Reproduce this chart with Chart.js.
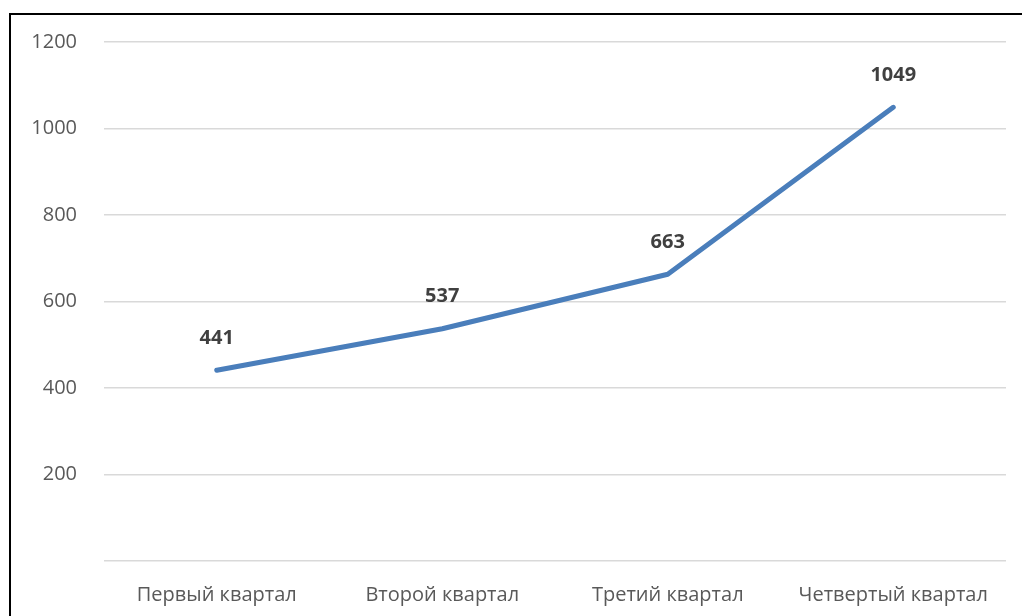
<!DOCTYPE html>
<html>
<head>
<meta charset="utf-8">
<script src="https://cdn.jsdelivr.net/npm/chart.js@4"></script>
<style>
  html, body { margin: 0; padding: 0; background: #fff; }
  #wrap { position: relative; width: 1022px; height: 616px; overflow: hidden; }
  #frame { position: absolute; left: 9px; top: 13px; width: 1100px; height: 700px;
    border-left: 2px solid #000; border-top: 2px solid #000; pointer-events: none; }
  canvas { position: absolute; left: 0; top: 0; }
</style>
</head>
<body>
<div id="wrap">
  <canvas id="chart" width="1022" height="616"></canvas>
  <div id="frame"></div>
</div>
<script>
const quarters = ['Первый квартал', 'Второй квартал', 'Третий квартал', 'Четвертый квартал'];
const values = [441, 537, 663, 1049];
const yTicks = [0, 200, 400, 600, 800, 1000, 1200];

const FONT = '"Open Sans", sans-serif';

// value labels above each point
const pointLabels = {
  id: 'pointLabels',
  afterDatasetsDraw(chart) {
    const ctx = chart.ctx;
    const meta = chart.getDatasetMeta(0);
    ctx.save();
    ctx.font = 'bold 20px ' + FONT;
    ctx.fillStyle = '#404040';
    ctx.textAlign = 'center';
    ctx.textBaseline = 'middle';
    meta.data.forEach((pt, i) => {
      ctx.fillText(String(values[i]), pt.x, pt.y - 32);
    });
    ctx.restore();
  }
};

new Chart(document.getElementById('chart'), {
  type: 'line',
  data: {
    labels: quarters,
    datasets: [{
      data: values,
      borderColor: '#4a7ebb',
      borderWidth: 5,
      borderCapStyle: 'round',
      borderJoinStyle: 'round',
      pointRadius: 0,
      tension: 0,
      fill: false
    }]
  },
  options: {
    responsive: false,
    animation: false,
    layout: { padding: { top: 42, right: 16, left: 0, bottom: 0 } },
    plugins: { legend: { display: false }, tooltip: { enabled: false } },
    scales: {
      x: {
        offset: true,
        grid: { display: false },
        border: { display: false },
        ticks: { color: '#595959', font: { family: FONT, size: 20 }, padding: 14, maxRotation: 0 },
        afterFit(s) { s.height = 55; }
      },
      y: {
        min: yTicks[0],
        max: yTicks[yTicks.length - 1],
        afterBuildTicks(s) { s.ticks = yTicks.map(v => ({ value: v })); },
        grid: { color: '#d9d9d9', lineWidth: 1.5, drawTicks: false },
        border: { display: false },
        ticks: {
          color: '#595959', font: { family: FONT, size: 20 }, padding: 27,
          callback: v => v === 0 ? '' : v
        },
        afterFit(s) { s.width = 104; }
      }
    }
  },
  plugins: [pointLabels]
});
</script>
</body>
</html>
